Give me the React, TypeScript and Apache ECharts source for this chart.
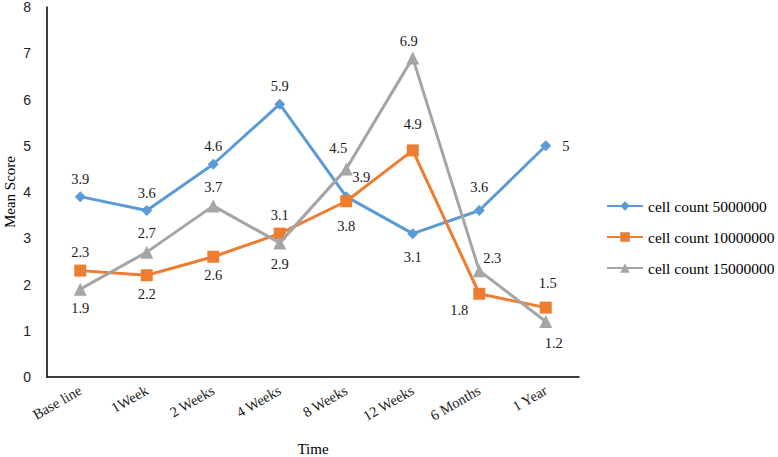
import React, { useEffect, useRef } from "react";
import * as echarts from "echarts";

const categories = ["Base line", "1Week", "2 Weeks", "4 Weeks", "8 Weeks", "12 Weeks", "6 Months", "1 Year"];
const seriesNames = ["cell count 5000000", "cell count 10000000", "cell count 15000000"];
const count5M = [3.9, 3.6, 4.6, 5.9, 3.9, 3.1, 3.6, 5];
const count10M = [2.3, 2.2, 2.6, 3.1, 3.8, 4.9, 1.8, 1.5];
const count15M = [1.9, 2.7, 3.7, 2.9, 4.5, 6.9, 2.3, 1.2];
const yTicks = [0, 1, 2, 3, 4, 5, 6, 7, 8];

// label placement per point: [position, dx, dy]
const labels5M: [string, number, number][] = [
  ["top", 0, 0], ["top", 0, 0], ["top", 0, 0], ["top", 0, 0],
  ["top", 15, -2], ["bottom", 0, 5], ["top", 0, -6], ["right", 6, 0],
];
const labels10M: [string, number, number][] = [
  ["top", 0, 0], ["bottom", 0, 0], ["bottom", 0, 0], ["top", 0, 0],
  ["bottom", 0, 6], ["top", 0, -8], ["bottom", -20, -2], ["top", 2, -6],
];
const labels15M: [string, number, number][] = [
  ["bottom", 0, 0], ["top", 0, 0], ["top", 0, 0], ["bottom", 0, 2],
  ["top", -8, -2], ["top", -4, 2], ["top", 13, 6], ["bottom", 8, 2],
];

const colors = ["#5B9BD5", "#ED7D31", "#A5A5A5"];
const symbols = ["diamond", "rect", "triangle"];
const symbolSizes = [11, 12, 13];

const SERIF = "Liberation Serif";
const SANS = "Liberation Sans";

export default function App() {
  const ref = useRef<HTMLDivElement>(null);
  useEffect(() => {
    if (!ref.current) return;
    const chart = echarts.init(ref.current, null, { renderer: "svg" });
    const mk = (name: string, vals: number[], lp: [string, number, number][], i: number) => ({
      name,
      type: "line",
      data: vals.map((v, k) => ({
        value: v,
        label: {
          show: true,
          position: lp[k][0],
          offset: [lp[k][1], lp[k][2]],
          fontFamily: SERIF,
          fontSize: 14.5,
          color: "#1a1a1a",
        },
      })),
      symbol: symbols[i],
      symbolSize: symbolSizes[i],
      itemStyle: { color: colors[i] },
      lineStyle: { color: colors[i], width: 3 },
      label: {
        show: true,
        fontFamily: SERIF,
        fontSize: 14.5,
        color: "#1a1a1a",
      },
      z: 2 + i,
    });
    chart.setOption({
      animation: false,
      backgroundColor: "#ffffff",
      textStyle: { fontFamily: SERIF },
      grid: { left: 47, right: 199, top: 7, bottom: 80, containLabel: false, outerBoundsMode: "none" },
      legend: {
        orient: "vertical",
        left: 606,
        top: 198,
        padding: 0,
        itemWidth: 36,
        itemHeight: 12,
        itemGap: 15,
        textStyle: { fontFamily: SERIF, fontSize: 15.5, color: "#000" },
        data: seriesNames,
      },
      xAxis: {
        type: "category",
        data: categories,
        boundaryGap: true,
        axisLine: { lineStyle: { color: "#000", width: 1.5 } },
        axisTick: { show: false },
        axisLabel: {
          rotate: 30,
          interval: 0,
          margin: 12,
          fontFamily: SERIF,
          fontSize: 14.5,
          color: "#1a1a1a",
        },
        name: "Time",
        nameLocation: "middle",
        nameGap: 64,
        nameMoveOverlap: false,
        nameTextStyle: { fontFamily: SERIF, fontSize: 15, color: "#000" },
      },
      yAxis: {
        type: "value",
        min: yTicks[0],
        max: yTicks[yTicks.length - 1],
        interval: 1,
        splitLine: { show: false },
        axisLine: { show: true, lineStyle: { color: "#000", width: 1.5 } },
        axisTick: { show: false },
        axisLabel: {
          margin: 16,
          fontFamily: SANS,
          fontSize: 14,
          color: "#222",
        },
        name: "Mean Score",
        nameLocation: "middle",
        nameGap: 30,
        nameMoveOverlap: false,
        nameTextStyle: { fontFamily: SERIF, fontSize: 15, color: "#000" },
      },
      series: [
        mk(seriesNames[0], count5M, labels5M, 0),
        mk(seriesNames[1], count10M, labels10M, 1),
        mk(seriesNames[2], count15M, labels15M, 2),
      ],
    });
    return () => chart.dispose();
  }, []);
  return <div ref={ref} style={{ width: 778, height: 457, position: "absolute", left: 0, top: 0 }} />;
}
